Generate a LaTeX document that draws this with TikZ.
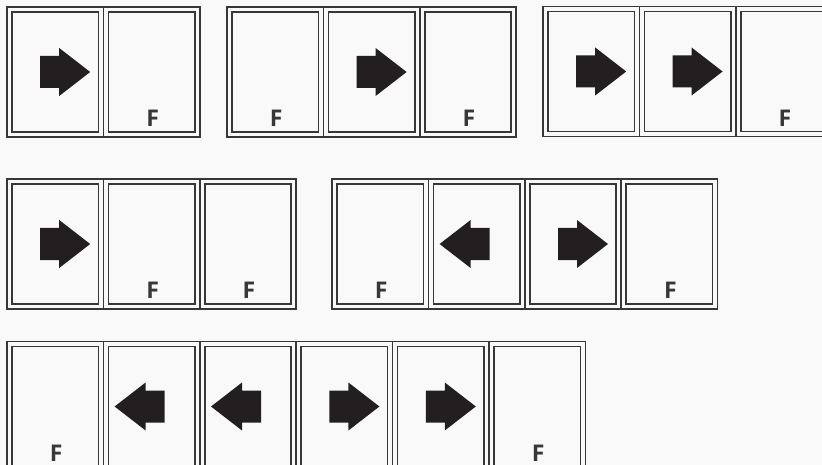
\documentclass[tikz,border=0pt]{standalone}
\usepackage{fontspec}
\newfontfamily\labelfont{Open Sans}
\usepackage{tikz}
\definecolor{framegray}{RGB}{55,55,55}
\definecolor{arrowblack}{RGB}{35,31,32}
\definecolor{labelgray}{RGB}{55,55,55}
\definecolor{bggray}{RGB}{249,249,249}

\begin{document}
\begin{tikzpicture}[x=1pt,y=-1pt,
  frame/.style={draw=framegray,line width=1.5pt},
  sash/.style={rectangle,draw=framegray,line width=1.5pt,inner sep=0pt,
    minimum width=86.4pt,minimum height=120pt},
  fixlab/.style={font=\labelfont\bfseries\fontsize{23}{23}\selectfont,
    text=labelgray,anchor=base,inner sep=0pt},
  arr/.pic={\fill[arrowblack] (-25,-16) -- (-6,-16) -- (-6,-24) -- (25,0)
    -- (-6,24) -- (-6,16) -- (-25,16) -- cycle;}]
  \useasboundingbox (0,0) rectangle (822,465);
  \clip (0,0) rectangle (822,465);
  \fill[bggray] (0,0) rectangle (822,465);

  % units: left edge / top edge / number of panels / name
  \foreach \ux/\uy/\n/\nm in {7/7/2/a,227/7/3/b,543/6.5/3/c,
      7/179/3/d,332/179/4/e,7/341.5/6/f}{
    \draw[frame] (\ux,\uy) rectangle ({\ux+96.4*\n},\uy+130);
    \foreach \i in {2,...,\n}
      \draw[frame] ({\ux+96.4*(\i-1)},\uy) -- ({\ux+96.4*(\i-1)},\uy+130);
    \foreach \i in {1,...,\n}
      \node[sash] (\nm\i) at ({\ux+96.4*\i-48.2},\uy+65) {};
  }

  % fixed panels
  \foreach \p in {a2,b1,b3,c3,d2,d3,e1,e4,f1,f6}
    \node[fixlab] (lab-\p) at ([xshift=1pt,yshift=6pt]\p.south) {F};

  % sliding directions
  \foreach \p in {a1,b2,c1,c2,d1,e3,f4,f5}
    \pic at ([xshift=10pt]\p.center) {arr};
  \foreach \p in {e2,f2,f3}
    \pic[rotate=180] at ([xshift=-12pt]\p.center) {arr};
\end{tikzpicture}
\end{document}
